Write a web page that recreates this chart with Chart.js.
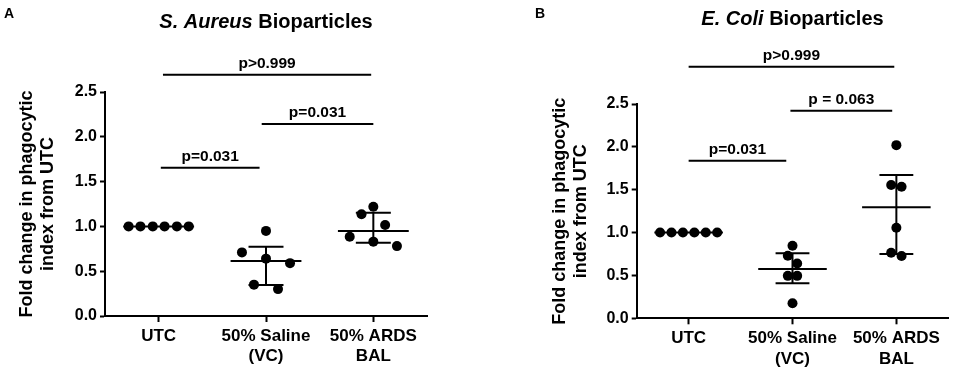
<!DOCTYPE html>
<html><head><meta charset="utf-8">
<script src="https://cdn.jsdelivr.net/npm/chart.js@4/dist/chart.umd.min.js"></script>
<style>
html,body{margin:0;padding:0;background:#fff;width:957px;height:372px;overflow:hidden}
.p{position:absolute;top:0;height:372px}
#wa{left:0;width:479px}
#wb{left:479px;width:478px}
</style></head><body>
<div class="p" id="wa"><canvas id="ca"></canvas></div>
<div class="p" id="wb"><canvas id="cb"></canvas></div>
<script>
// ---------- data ----------
const categories = [['UTC'], ['50% Saline', '(VC)'], ['50% ARDS', 'BAL']];
const yTickValues = [0, 0.5, 1.0, 1.5, 2.0, 2.5];
const yAxisTitle = ['Fold change in phagocytic', 'index from UTC'];

// Panel A: S. Aureus
const utcA    = [1.0, 1.0, 1.0, 1.0, 1.0, 1.0];
const salineA = [0.95, 0.71, 0.64, 0.59, 0.35, 0.30];
const ardsA   = [1.22, 1.135, 1.016, 0.885, 0.83, 0.78];
const jitUtcA = [-0.28, -0.17, -0.055, 0.055, 0.17, 0.28];
const jitSalA = [0, -0.224, 0, 0.224, -0.112, 0.112];
const jitArdA = [0, -0.11, 0.11, -0.22, 0, 0.22];
const medianA = [1.0, 0.615, 0.95];
const q1A     = [1.0, 0.345, 0.818];
const q3A     = [1.0, 0.773, 1.153];
const sigLabelsA = ['p=0.031', 'p=0.031', 'p>0.999'];
const sigFromA   = [0.02, 0.96, 0.04];
const sigToA     = [0.94, 2.0, 1.98];
const sigYA      = [1.655, 2.143, 2.693];

// Panel B: E. Coli
const utcB    = [1.0, 1.0, 1.0, 1.0, 1.0, 1.0];
const salineB = [0.847, 0.73, 0.64, 0.495, 0.495, 0.175];
const ardsB   = [2.02, 1.555, 1.535, 1.057, 0.765, 0.727];
const jitUtcB = [-0.275, -0.165, -0.055, 0.055, 0.165, 0.275];
const jitSalB = [0, -0.045, 0.045, -0.045, 0.045, 0];
const jitArdB = [0, -0.05, 0.05, 0, -0.05, 0.05];
const medianB = [1.0, 0.575, 1.295];
const q1B     = [1.0, 0.408, 0.75];
const q3B     = [1.0, 0.758, 1.672];
const sigLabelsB = ['p=0.031', 'p = 0.063', 'p>0.999'];
const sigFromB   = [0.0, 0.98, 0.0];
const sigToB     = [0.94, 1.96, 1.98];
const sigYB      = [1.839, 2.422, 2.936];

// ---------- rendering ----------
const FONT = '"Liberation Sans", Arial, Helvetica, sans-serif';

function pts(vals, jit, idx) { return vals.map((v, i) => ({ x: idx + jit[i], y: v })); }

function summarySegments(med, q1, q3, hw, cw) {
  const d = [];
  med.forEach((m, i) => {
    d.push({ x: i - hw, y: m }, { x: i + hw, y: m }, { x: i, y: null });
    if (q3[i] !== q1[i]) {
      d.push({ x: i, y: q1[i] }, { x: i, y: q3[i] }, { x: i, y: null });
      d.push({ x: i - cw, y: q3[i] }, { x: i + cw, y: q3[i] }, { x: i, y: null });
      d.push({ x: i - cw, y: q1[i] }, { x: i + cw, y: q1[i] }, { x: i, y: null });
    }
  });
  return d;
}
function sigSegments(from, to, ys) {
  const d = [];
  ys.forEach((y, i) => { d.push({ x: from[i], y: y }, { x: to[i], y: y }, { x: from[i], y: null }); });
  return d;
}

function textPlugin(o) {
  return {
    id: 'texts',
    afterDraw(chart) {
      const { ctx, chartArea, scales: { x, y } } = chart;
      ctx.save();
      ctx.fillStyle = '#000';
      ctx.textBaseline = 'middle';
      ctx.textAlign = 'center';
      ctx.font = `bold 14px ${FONT}`;
      ctx.fillText(o.letter, o.letterX, o.letterY);
      const f1 = `italic bold ${o.titleSize}px ${FONT}`, f2 = `bold ${o.titleSize}px ${FONT}`;
      ctx.font = f1; const w1 = ctx.measureText(o.titleItalic + ' ').width;
      ctx.font = f2; const w2 = ctx.measureText(o.titleRest).width;
      const cx = (chartArea.left + chartArea.right) / 2;
      const sx = cx - (w1 + w2) / 2;
      ctx.textAlign = 'left';
      ctx.font = f1; ctx.fillText(o.titleItalic + ' ', sx, o.titleY);
      ctx.font = f2; ctx.fillText(o.titleRest, sx + w1, o.titleY);
      ctx.textAlign = 'center';
      ctx.font = `bold 15.5px ${FONT}`;
      o.labels.forEach((t, i) => {
        const px = x.getPixelForValue((o.from[i] + o.to[i]) / 2);
        const py = y.getPixelForValue(o.ys[i]) - 11;
        ctx.fillText(t, px, py);
      });
      ctx.restore();
    }
  };
}

function makeChart(id, c) {
  const pointStyle = { pointRadius: 5, pointHoverRadius: 5, backgroundColor: '#000', borderWidth: 0, pointBorderWidth: 0 };
  new Chart(document.getElementById(id), {
    type: 'scatter',
    data: {
      datasets: [
        Object.assign({ label: 'UTC', data: pts(c.utc, c.jU, 0) }, pointStyle),
        Object.assign({ label: 'Saline', data: pts(c.sal, c.jS, 1) }, pointStyle),
        Object.assign({ label: 'ARDS', data: pts(c.ard, c.jA, 2) }, pointStyle),
        { label: 'median', data: summarySegments(c.med, c.q1, c.q3, 0.33, 0.163), showLine: true, spanGaps: false,
          borderColor: '#000', borderWidth: 2, pointRadius: 0, borderCapStyle: 'butt' },
        { label: 'sig', data: sigSegments(c.sf, c.st, c.sy), showLine: true, spanGaps: false, clip: false,
          borderColor: '#000', borderWidth: 2, pointRadius: 0 }
      ]
    },
    options: {
      responsive: true, maintainAspectRatio: false, animation: false, events: [],
      layout: { padding: { left: 0, right: c.padR, top: c.padT, bottom: 0 } },
      plugins: { legend: { display: false }, tooltip: { enabled: false }, title: { display: false } },
      scales: {
        x: {
          type: 'linear', min: -0.5, max: 2.5,
          afterBuildTicks: s => { s.ticks = categories.map((_, i) => ({ value: i })); },
          afterFit: s => { s.height = c.xH; },
          ticks: { autoSkip: false, maxRotation: 0, minRotation: 0, padding: 4,
                   color: '#000', font: { family: FONT, size: 17, weight: 'bold', lineHeight: 1.2 },
                   callback: (v, i) => categories[i] },
          grid: { drawOnChartArea: false, drawTicks: true, tickLength: 6, tickWidth: 2, tickColor: '#000' },
          border: { display: true, color: '#000', width: 2 }
        },
        y: {
          min: 0, max: 2.5,
          afterBuildTicks: s => { s.ticks = yTickValues.map(v => ({ value: v })); },
          afterFit: s => { s.width = c.yW; },
          ticks: { padding: 3, color: '#000', font: { family: FONT, size: 16, weight: 'bold' },
                   callback: v => Number(v).toFixed(1) },
          grid: { drawOnChartArea: false, drawTicks: true, tickLength: 5, tickWidth: 2, tickColor: '#000' },
          border: { display: true, color: '#000', width: 2 },
          title: { display: true, text: yAxisTitle, color: '#000',
                   font: { family: FONT, size: 18, weight: 'bold', lineHeight: 1.2 },
                   padding: { top: c.yTitlePad, bottom: 0 } }
        }
      }
    },
    plugins: [textPlugin({ letter: c.letter, letterX: c.letterX, letterY: 14,
      titleItalic: c.titleItalic, titleRest: 'Bioparticles', titleSize: 20, titleY: c.titleY,
      labels: c.sl, from: c.sf, to: c.st, ys: c.sy })]
  });
}

makeChart('ca', {
  utc: utcA, sal: salineA, ard: ardsA, jU: jitUtcA, jS: jitSalA, jA: jitArdA,
  med: medianA, q1: q1A, q3: q3A, sl: sigLabelsA, sf: sigFromA, st: sigToA, sy: sigYA,
  yW: 105, xH: 56, padT: 92, padR: 52, yTitlePad: 16,
  letter: 'A', letterX: 9, titleItalic: 'S. Aureus', titleY: 22.5
});
makeChart('cb', {
  utc: utcB, sal: salineB, ard: ardsB, jU: jitUtcB, jS: jitSalB, jA: jitArdB,
  med: medianB, q1: q1B, q3: q3B, sl: sigLabelsB, sf: sigFromB, st: sigToB, sy: sigYB,
  yW: 157.7, xH: 53.7, padT: 104, padR: 8.7, yTitlePad: 70,
  letter: 'B', letterX: 61, titleItalic: 'E. Coli', titleY: 19
});
</script>
</body></html>
